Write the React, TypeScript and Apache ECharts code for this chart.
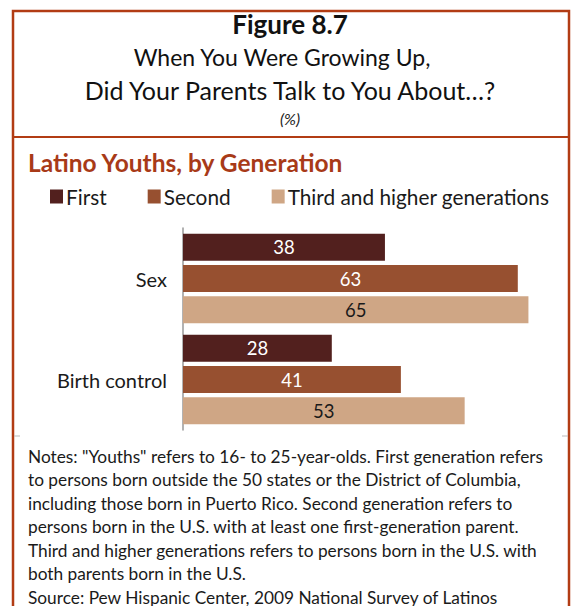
import React, { useEffect, useRef } from "react";
import * as echarts from "echarts";

const categories = ["Sex", "Birth control"];
const seriesNames = ["First", "Second", "Third and higher generations"];
const firstGen = [38, 28];
const secondGen = [63, 41];
const thirdGen = [65, 53];

const titleLines = ["When You Were Growing Up,", "Did Your Parents Talk to You About\u2026?"];
const noteLines = [
  'Notes: "Youths" refers to 16- to 25-year-olds. First generation refers',
  "to persons born outside the 50 states or the District of Columbia,",
  "including those born in Puerto Rico. Second generation refers to",
  "persons born in the U.S. with at least one first-generation parent.",
  "Third and higher generations refers to persons born in the U.S. with",
  "both parents born in the U.S.",
  "Source: Pew Hispanic Center, 2009 National Survey of Latinos",
];

const colors = ["#52201E", "#975030", "#CFA685"];
const labelColors = ["#ffffff", "#ffffff", "#1a1a1a"];
const border = "#B23C14";
const FONT = "Lato, 'Open Sans', sans-serif";

export default function App() {
  const ref = useRef<HTMLDivElement>(null);
  useEffect(() => {
    const chart = echarts.init(ref.current!, null, { renderer: "svg" });
    const data = [firstGen, secondGen, thirdGen];
    chart.setOption({
      animation: false,
      backgroundColor: "#ffffff",
      textStyle: { fontFamily: FONT },
      legend: {
        left: 50,
        top: 186,
        padding: 0,
        itemWidth: 13,
        itemHeight: 14,
        itemGap: 41,
        icon: "rect",
        data: seriesNames,
        textStyle: { fontSize: 20.8, color: "#1a1a1a", fontFamily: FONT, padding: [0, 0, 0, -2] },
      },
      grid: { left: 183, top: 228, width: 372, height: 202, containLabel: false },
      xAxis: {
        type: "value",
        min: 0,
        max: 70,
        show: false,
      },
      yAxis: {
        type: "category",
        inverse: true,
        data: categories,
        axisLine: { show: true, lineStyle: { color: "#999999", width: 1.5 } },
        axisTick: { show: false },
        axisLabel: { fontSize: 20, color: "#1a1a1a", margin: 16, fontFamily: FONT },
      },
      series: data.map((d, i) => ({
        type: "bar",
        name: seriesNames[i],
        data: d,
        barWidth: 27,
        barGap: "16%",
        itemStyle: { color: colors[i] },
        label: {
          show: true,
          position: "inside",
          color: labelColors[i],
          fontSize: 18.5,
          fontFamily: FONT,
        },
      })),
      graphic: [
        {
          type: "rect",
          shape: { x: 13, y: 11, width: 556, height: 610 },
          style: { fill: "none", stroke: border, lineWidth: 2.5 },
        },
        {
          type: "line",
          shape: { x1: 13, y1: 137, x2: 569, y2: 137 },
          style: { stroke: border, lineWidth: 2 },
        },
        {
          type: "line",
          shape: { x1: 14, y1: 436, x2: 20, y2: 436 },
          style: { stroke: "#bbbbbb", lineWidth: 1 },
        },
        {
          type: "line",
          shape: { x1: 562, y1: 436, x2: 568, y2: 436 },
          style: { stroke: "#bbbbbb", lineWidth: 1 },
        },
        {
          type: "text",
          x: 290,
          y: 24,
          style: {
            text: "Figure 8.7",
            font: `bold 26px ${FONT}`,
            fill: "#111111",
            textAlign: "center",
            textVerticalAlign: "middle",
          },
        },
        ...titleLines.map((t, i) => ({
          type: "text",
          x: i === 0 ? 282 : 290,
          y: 57 + i * 33,
          style: {
            text: t,
            font: `${i === 0 ? 23 : 25}px ${FONT}`,
            fill: "#111111",
            textAlign: "center",
            textVerticalAlign: "middle",
          },
        })),
        {
          type: "text",
          x: 290,
          y: 118,
          style: {
            text: "(%)",
            font: `italic 16px ${FONT}`,
            fill: "#222222",
            textAlign: "center",
            textVerticalAlign: "middle",
          },
        },
        {
          type: "text",
          x: 28,
          y: 162,
          style: {
            text: "Latino Youths, by Generation",
            font: `bold 24.5px ${FONT}`,
            fill: "#A83A18",
            textAlign: "left",
            textVerticalAlign: "middle",
          },
        },
        ...noteLines.map((t, i) => ({
          type: "text",
          x: 28,
          y: 456 + i * 23.5,
          style: {
            text: t,
            font: `17.3px ${FONT}`,
            fill: "#1a1a1a",
            textAlign: "left",
            textVerticalAlign: "middle",
          },
        })),
      ],
    });
    return () => chart.dispose();
  }, []);
  return (
    <div
      ref={ref}
      style={{ position: "absolute", left: 0, top: 0, width: 571, height: 606 }}
    />
  );
}
